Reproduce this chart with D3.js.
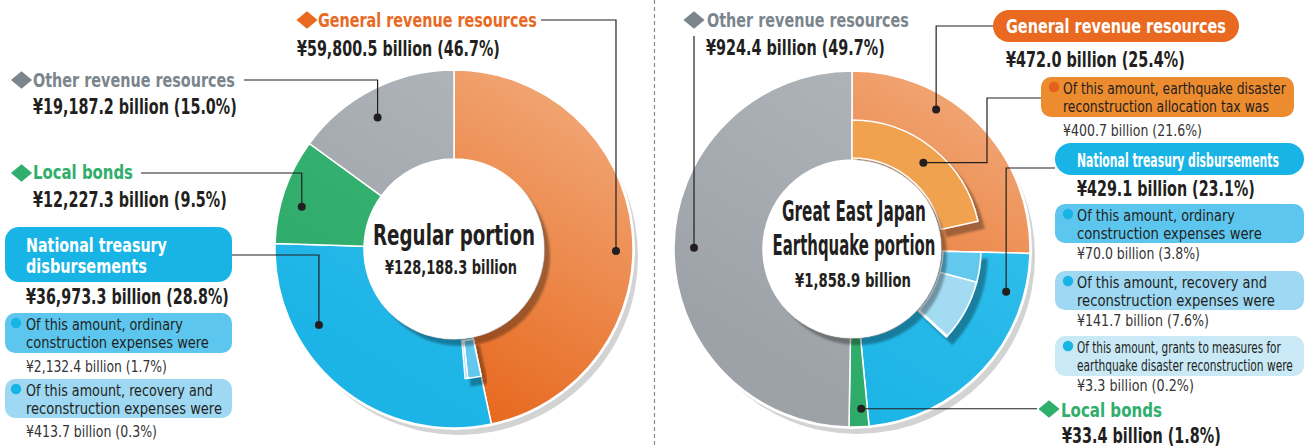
<!DOCTYPE html>
<html>
<head>
<meta charset="utf-8">
<script src="https://cdn.jsdelivr.net/npm/d3@7"></script>
<style>
  html, body { margin: 0; padding: 0; background: #fff; }
  svg { display: block; font-family: "Liberation Sans Narrow", "DejaVu Sans Condensed", "Liberation Sans", sans-serif; }
</style>
</head>
<body>
<div id="chart"></div>
<script>
// ---- data ----
const categories = ["General revenue resources", "National treasury disbursements", "Local bonds", "Other revenue resources"];
const regularValues = [59800.5, 36973.3, 12227.3, 19187.2];
const quakeValues = [472.0, 429.1, 33.4, 924.4];
const regularTreasurySubs = [2132.4, 413.7];
const quakeRevenueSubs = [400.7];
const quakeTreasurySubs = [70.0, 141.7, 3.3];
const ordinaryNote = ["Of this amount, ordinary", "construction expenses were"];
const recoveryNote = ["Of this amount, recovery and", "reconstruction expenses were"];
const grantsNote = ["Of this amount, grants to measures for", "earthquake disaster reconstruction were"];
const allocTaxNote = ["Of this amount, earthquake disaster", "reconstruction allocation tax was"];
const regularTitle = ["Regular portion"];
const quakeTitle = ["Great East Japan", "Earthquake portion"];

// ---- styles ----
const W = 1306, H = 448;
const dark = "#231f20";
const textColor = { orange: "#e8691f", gray: "#7b858c", green: "#2fae6c", blue: "#1ab4e6" };
const ringFill = [
  ["#f0a26f", "#e7661b"], // general revenue
  ["#33c0ec", "#1cb4e6"], // treasury
  ["#38b474", "#2eaa69"], // local bonds
  ["#afb4b9", "#9ca2a8"], // other
];
const subFill = { blue1: "#62c8ee", blue2: "#a3dbf3", blue3: "#c9eaf8", orange: "#f0a24f" };
const boxFill = { blue: "#19b4e6", blue1: "#5dc6ee", blue2: "#9ed8f2", blue3: "#c9e9f7", orange: "#e8691f", orangeSub: "#ed8b2f" };

const fmtVal = (v) => `¥${d3.format(",.1f")(v)} billion`;
const pct = (v, tot) => `(${((v / tot) * 100).toFixed(1)}%)`;

const svg = d3.select("#chart").append("svg").attr("width", W).attr("height", H);
const defs = svg.append("defs");

const sh = defs.append("filter").attr("id", "shadow").attr("x", "-30%").attr("y", "-30%").attr("width", "160%").attr("height", "160%");
sh.append("feDropShadow").attr("dx", 6).attr("dy", 7).attr("stdDeviation", 0.8)
  .attr("flood-color", "#000").attr("flood-opacity", 0.32);

function gradients(prefix, r) {
  ringFill.forEach((c, i) => {
    const lg = defs.append("linearGradient").attr("id", `${prefix}-g${i}`)
      .attr("gradientUnits", "userSpaceOnUse")
      .attr("x1", r * 0.7).attr("y1", -r * 0.7).attr("x2", -r * 0.2).attr("y2", r * 0.8);
    lg.append("stop").attr("offset", 0).attr("stop-color", c[0]);
    lg.append("stop").attr("offset", 1).attr("stop-color", c[1]);
  });
}

// condensed text: draw at size, then squeeze horizontally to width w
function txt(g, x, y, str, o = {}) {
  const t = g.append("text")
    .attr("transform", `translate(${x},${y})`)
    .attr("font-size", o.size || 16)
    .attr("font-weight", o.bold ? 700 : 400)
    .attr("fill", o.color || dark)
    .attr("text-anchor", o.anchor || "start")
    .text(str);
  if (o.w) {
    const len = t.node().getComputedTextLength();
    t.attr("transform", `translate(${x},${y}) scale(${o.w / len},1)`);
  }
  return t;
}

function diamond(g, x, y, color) {
  g.append("path")
    .attr("d", d3.symbol(d3.symbolSquare, 185)())
    .attr("transform", `translate(${x},${y}) scale(1.1,0.9) rotate(45)`)
    .attr("fill", color);
}

function dotLine(g, d, dot) {
  g.append("path").attr("d", d).attr("fill", "none").attr("stroke", dark).attr("stroke-width", 1.2);
  g.append("circle").attr("cx", dot[0]).attr("cy", dot[1]).attr("r", 4).attr("fill", dark);
}

// donut with optional inner sub slices
function donut(cx, cy, values, opt) {
  const g = svg.append("g").attr("transform", `translate(${cx},${cy})`);
  gradients(opt.prefix, opt.r1);
  const total = d3.sum(values);
  const arcs = d3.pie().sort(null)(values);
  const arc = d3.arc().innerRadius(opt.r0).outerRadius(opt.r1);

  // outer drop shadow
  g.append("circle").attr("cx", 5).attr("cy", 7).attr("r", opt.r1).attr("fill", "#d3d3d3");
  g.append("circle").attr("r", opt.r1 + 2).attr("fill", "#fff");

  g.append("g").selectAll("path").data(arcs).join("path")
    .attr("d", arc)
    .attr("fill", (d, i) => `url(#${opt.prefix}-g${i})`)
    .attr("stroke", "#fff").attr("stroke-width", 1.5);

  const ang = d3.scaleLinear().domain([0, total]).range([0, 2 * Math.PI]);
  const subArcs = [];
  const subG = g.append("g").attr("filter", "url(#shadow)");
  opt.subs.forEach((s) => {
    let a = arcs[s.parent].startAngle;
    s.values.forEach((v, j) => {
      const a1 = a + ang(v);
      subArcs.push({ startAngle: a, endAngle: a1 });
      subG.append("path")
        .attr("d", d3.arc().innerRadius(opt.r0 + 2).outerRadius(opt.rSub).startAngle(a).endAngle(a1)())
        .attr("fill", s.fills[j])
        .attr("stroke", "#fff").attr("stroke-width", 1.5);
      a = a1;
    });
  });

  // hole with shadow
  g.append("circle").attr("r", opt.r0).attr("fill", "#fff").attr("filter", "url(#shadow)");

  const polar = (a, r) => [cx + r * Math.sin(a), cy - r * Math.cos(a)];
  return {
    total,
    at: (i, t, r) => polar(arcs[i].startAngle + t * (arcs[i].endAngle - arcs[i].startAngle), r),
    atSub: (i, t, r) => polar(subArcs[i].startAngle + t * (subArcs[i].endAngle - subArcs[i].startAngle), r),
  };
}

function subBox(g, x, y, w, h, fill, dotColor, lines, lineW, value, valueW, tot, o = {}) {
  g.append("rect").attr("x", x).attr("y", y).attr("width", w).attr("height", h).attr("rx", 10).attr("fill", fill);
  g.append("circle").attr("cx", x + (o.dx || 11)).attr("cy", y + 10).attr("r", 5.2).attr("fill", dotColor);
  const tx = x + (o.tx || 21);
  txt(g, tx, y + 17, lines[0], { size: 16, w: lineW[0] });
  txt(g, tx, y + 35, lines[1], { size: 16, w: lineW[1] });
  txt(g, tx, y + h + (o.vy || 19), `${fmtVal(value)} ${pct(value, tot)}`, { size: 16, w: valueW, color: "#333" });
}

// ---- divider ----
svg.append("line").attr("x1", 654.5).attr("x2", 654.5).attr("y1", 0).attr("y2", H)
  .attr("stroke", "#8a8a8a").attr("stroke-width", 1.2).attr("stroke-dasharray", "4 3");

// ================= Regular portion =================
const L = donut(454, 249, regularValues, {
  prefix: "reg", r0: 90, r1: 179, rSub: 130,
  subs: [{ parent: 1, values: regularTreasurySubs, fills: [subFill.blue1, subFill.blue2] }],
});
const lt = svg.append("g");
const regTot = L.total;

txt(lt, 454, 245, regularTitle[0], { size: 28, bold: true, anchor: "middle", w: 162 });
txt(lt, 451, 274, fmtVal(regTot), { size: 19.5, bold: true, anchor: "middle", w: 132 });

// general revenue
let p = L.at(0, 0.54, 162);
dotLine(lt, `M541,20H${p[0]}V${p[1]}`, p);
diamond(lt, 307, 20, textColor.orange);
txt(lt, 318, 27, categories[0], { size: 19.5, bold: true, color: textColor.orange, w: 219 });
txt(lt, 297, 56, `${fmtVal(regularValues[0])} ${pct(regularValues[0], regTot)}`, { size: 20.5, bold: true, w: 203 });

// other revenue
p = L.at(3, 0.44, 152);
dotLine(lt, `M244,80H${p[0]}V${p[1]}`, p);
diamond(lt, 21.5, 80, textColor.gray);
txt(lt, 33, 87, categories[3], { size: 19.5, bold: true, color: textColor.gray, w: 202 });
txt(lt, 33, 114, `${fmtVal(regularValues[3])} ${pct(regularValues[3], regTot)}`, { size: 20.5, bold: true, w: 204 });

// local bonds
p = L.at(2, 0.4, 158);
dotLine(lt, `M141,173H${p[0]}V${p[1]}`, p);
diamond(lt, 21.5, 173, textColor.green);
txt(lt, 33, 179, categories[2], { size: 19.5, bold: true, color: textColor.green, w: 100 });
txt(lt, 33, 207, `${fmtVal(regularValues[2])} ${pct(regularValues[2], regTot)}`, { size: 20.5, bold: true, w: 194 });

// national treasury
p = L.at(1, 0.7, 155);
dotLine(lt, `M232,255H${p[0]}V${p[1]}`, p);
lt.append("rect").attr("x", 5).attr("y", 227).attr("width", 227).attr("height", 55).attr("rx", 14).attr("fill", boxFill.blue);
txt(lt, 26, 252, "National treasury", { size: 19.5, bold: true, color: "#fff", w: 141 });
txt(lt, 26, 273, "disbursements", { size: 19.5, bold: true, color: "#fff", w: 121 });
txt(lt, 26, 304, `${fmtVal(regularValues[1])} ${pct(regularValues[1], regTot)}`, { size: 21, bold: true, w: 203 });

subBox(lt, 5, 313, 227, 40, boxFill.blue1, boxFill.blue, ordinaryNote, [157, 183], regularTreasurySubs[0], 141, regTot);
subBox(lt, 5, 379, 227, 39, boxFill.blue2, boxFill.blue, recoveryNote, [187, 196], regularTreasurySubs[1], 131, regTot);

// ================= Great East Japan Earthquake portion =================
const R = donut(852, 249, quakeValues, {
  prefix: "qk", r0: 89, r1: 178, rSub: 129,
  subs: [
    { parent: 0, values: quakeRevenueSubs, fills: [subFill.orange] },
    { parent: 1, values: quakeTreasurySubs, fills: [subFill.blue1, subFill.blue2, subFill.blue3] },
  ],
});
const rt = svg.append("g");
const qkTot = R.total;

txt(rt, 854, 221, quakeTitle[0], { size: 28, bold: true, anchor: "middle", w: 144 });
txt(rt, 854, 255, quakeTitle[1], { size: 28, bold: true, anchor: "middle", w: 163 });
txt(rt, 853, 287, fmtVal(qkTot), { size: 19.5, bold: true, anchor: "middle", w: 116 });

// other revenue
p = R.at(3, 0.5, 158);
dotLine(rt, `M${p[0]},36V${p[1]}`, p);
diamond(rt, 694, 20, textColor.gray);
txt(rt, 707, 27, categories[3], { size: 19.5, bold: true, color: textColor.gray, w: 202 });
txt(rt, 706, 55, `${fmtVal(quakeValues[3])} ${pct(quakeValues[3], qkTot)}`, { size: 20.5, bold: true, w: 179 });

// general revenue
p = R.at(0, 0.34, 163);
dotLine(rt, `M993,26H${p[0]}V${p[1]}`, p);
rt.append("rect").attr("x", 993).attr("y", 10).attr("width", 246).attr("height", 32).attr("rx", 16).attr("fill", boxFill.orange);
txt(rt, 1006, 33, categories[0], { size: 19.5, bold: true, color: "#fff", w: 220 });
txt(rt, 1006, 67, `${fmtVal(quakeValues[0])} ${pct(quakeValues[0], qkTot)}`, { size: 20.5, bold: true, w: 179 });

// allocation tax sub
p = R.atSub(0, 0.51, 112);
dotLine(rt, `M1041,98H987V${p[1]}H${p[0]}`, p);
subBox(rt, 1041, 77, 253, 40, boxFill.orangeSub, "#e5601b", allocTaxNote, [223, 206], quakeRevenueSubs[0], 139, qkTot, { dx: 13, tx: 22, vy: 19 });

// national treasury
p = R.at(1, 0.17, 160);
dotLine(rt, `M1055,168H${p[0]}V${p[1]}`, p);
rt.append("rect").attr("x", 1055).attr("y", 143).attr("width", 249).attr("height", 32).attr("rx", 16).attr("fill", boxFill.blue);
txt(rt, 1077, 167, categories[1], { size: 19.5, bold: true, color: "#fff", w: 202 });
txt(rt, 1077, 196, `${fmtVal(quakeValues[1])} ${pct(quakeValues[1], qkTot)}`, { size: 20.5, bold: true, w: 178 });

subBox(rt, 1055, 204, 249, 39, boxFill.blue1, boxFill.blue, ordinaryNote, [158, 185], quakeTreasurySubs[0], 123, qkTot, { dx: 13, tx: 22, vy: 16 });
subBox(rt, 1055, 271, 249, 39, boxFill.blue2, boxFill.blue, recoveryNote, [190, 198], quakeTreasurySubs[1], 132, qkTot, { dx: 13, tx: 22, vy: 16 });
subBox(rt, 1055, 336, 249, 40, boxFill.blue3, boxFill.blue, grantsNote, [204, 216], quakeTreasurySubs[2], 117, qkTot, { dx: 13, tx: 22, vy: 15 });

// local bonds
p = R.at(2, 0.34, 160);
dotLine(rt, `M1037,${p[1]}H${p[0]}`, p);
diamond(rt, 1049, 409, textColor.green);
txt(rt, 1061, 417, categories[2], { size: 19.5, bold: true, color: textColor.green, w: 101 });
txt(rt, 1062, 443, `${fmtVal(quakeValues[2])} ${pct(quakeValues[2], qkTot)}`, { size: 20.5, bold: true, w: 159 });
</script>
</body>
</html>
